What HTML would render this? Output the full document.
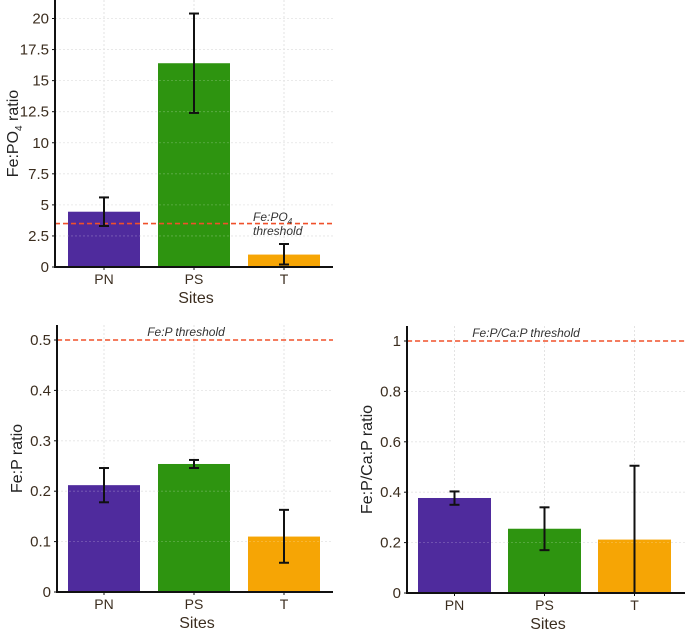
<!DOCTYPE html>
<html><head><meta charset="utf-8"><style>
body{margin:0;background:#fff}
svg{display:block;font-family:"Liberation Sans",sans-serif}
</style></head><body>
<svg id="c" width="685" height="629"></svg>
<script>
const categories=["PN","PS","T"];
const colors=["#4b279b","#2a920b","#f6a300"];
const valsA=[4.45,16.4,1.0];
const loA=[3.3,12.4,0.2];
const hiA=[5.6,20.4,1.85];
const ticksA=[0,2.5,5,7.5,10,12.5,15,17.5,20];
const tickLabA=["0","2.5","5","7.5","10","12.5","15","17.5","20"];
const threshA=3.5;
const valsB=[0.212,0.254,0.11];
const loB=[0.178,0.246,0.058];
const hiB=[0.246,0.262,0.163];
const ticksB=[0,0.1,0.2,0.3,0.4,0.5];
const tickLabB=["0","0.1","0.2","0.3","0.4","0.5"];
const threshB=0.5;
const valsC=[0.377,0.255,0.212];
const loC=[0.35,0.17,0.0];
const hiC=[0.403,0.34,0.505];
const ticksC=[0,0.2,0.4,0.6,0.8,1];
const tickLabC=["0","0.2","0.4","0.6","0.8","1"];
const threshC=1;

const NS="http://www.w3.org/2000/svg";
const svg=document.getElementById('c');
function mk(t,a,parent){const e=document.createElementNS(NS,t);for(const k in a)e.setAttribute(k,a[k]);(parent||svg).appendChild(e);return e;}

function panel(p){
  const g=mk('g',{});
  
  
  const y=v=>p.y0+(v-p.vmin)*(p.y1-p.y0)/(p.vmax-p.vmin);
  const xc=i=>p.bx0+p.bw/2+i*p.step;
  p.ticks.forEach((t,i)=>{
    const l=mk('line',{x1:p.left,x2:p.right,y1:y(t),y2:y(t),stroke:"#ddd","stroke-width":0.8,"stroke-dasharray":"2,2"},g);
    
    const tx=mk('text',{x:p.left-6,y:y(t)+5,"text-anchor":"end","font-size":15,fill:"#3b2d1f"},g);
    tx.textContent=p.tickLab[i];
    
  });
  categories.forEach((c,i)=>{
    const gl=mk('line',{x1:xc(i),x2:xc(i),y1:p.top,y2:p.y0,stroke:"#ddd","stroke-width":0.8,"stroke-dasharray":"2,2"},g);
    
  });
  categories.forEach((c,i)=>{
    const b=mk('rect',{x:xc(i)-p.bw/2,y:y(p.vals[i]),width:p.bw,height:p.y0-y(p.vals[i]),fill:colors[i],"fill-opacity":0.98},g);
    
  });
  p.ticks.forEach(t=>{mk('line',{x1:p.left,x2:p.right,y1:y(t),y2:y(t),stroke:"#fff","stroke-opacity":0.25,"stroke-width":0.8,"stroke-dasharray":"2,2"},g);});
  const th=mk('line',{x1:p.left,x2:p.right,y1:y(p.thresh),y2:y(p.thresh),stroke:"#f0502a","stroke-width":1.6,"stroke-dasharray":"5,3"},g);
  
  categories.forEach((c,i)=>{
    const e=mk('g',{stroke:"#111","stroke-width":2},g);
    
    mk('line',{x1:xc(i),x2:xc(i),y1:y(p.lo[i]),y2:y(p.hi[i])},e);
    mk('line',{x1:xc(i)-5,x2:xc(i)+5,y1:y(p.lo[i]),y2:y(p.lo[i])},e);
    mk('line',{x1:xc(i)-5,x2:xc(i)+5,y1:y(p.hi[i]),y2:y(p.hi[i])},e);
    const tl=mk('text',{x:xc(i),y:p.y0+17,"text-anchor":"middle","font-size":14,fill:"#3b2d1f"},g);
    tl.textContent=c;
    mk('line',{x1:xc(i),x2:xc(i),y1:p.y0,y2:p.y0+3,stroke:"#111"},g);
  });
  p.ticks.forEach(t=>mk('line',{x1:p.left-3,x2:p.left,y1:y(t),y2:y(t),stroke:"#111"},g));
  const ax=mk('path',{d:`M${p.left},${p.top}V${p.y0}H${p.right}`,fill:"none",stroke:"#111","stroke-width":2},g);
  
  const xl=mk('text',{x:(p.left+p.right)/2+2,y:p.y0+36,"text-anchor":"middle","font-size":16,fill:"#3b2d1f"},g);
  xl.textContent="Sites";
  const yl=mk('text',{x:0,y:0,"text-anchor":"middle","font-size":16,fill:"#222",transform:`translate(${p.ylx},${(p.top+p.y0)/2}) rotate(-90)`},g);
  yl.innerHTML=p.ylab;
  return {g,y};
}
const A=panel({name:"panel-fe-po4",left:55,right:333,top:0,y0:267,y1:18.5,vmin:0,vmax:20,bx0:68,bw:72,step:90,
  vals:valsA,lo:loA,hi:hiA,ticks:ticksA,tickLab:tickLabA,thresh:threshA,ylx:18,
  ylab:'Fe:PO<tspan font-size="10" dy="4">4</tspan><tspan dy="-4"> ratio</tspan>'});
let t=mk('text',{x:253,y:221,"font-size":12,"font-style":"italic",fill:"#333"},A.g);
t.innerHTML='Fe:PO<tspan font-size="8" dy="3">4</tspan>';

t=mk('text',{x:253,y:235,"font-size":12,"font-style":"italic",fill:"#333"},A.g);
t.textContent='threshold';

const B=panel({name:"panel-fe-p",left:57,right:333,top:325,y0:592,y1:340,vmin:0,vmax:0.5,bx0:68,bw:72,step:90,
  vals:valsB,lo:loB,hi:hiB,ticks:ticksB,tickLab:tickLabB,thresh:threshB,ylx:22,ylab:'Fe:P ratio'});
t=mk('text',{x:186,y:336,"text-anchor":"middle","font-size":12,"font-style":"italic",fill:"#333"},B.g);
t.textContent='Fe:P threshold';

const C=panel({name:"panel-fe-p-ca-p",left:407,right:685,top:326,y0:593,y1:341,vmin:0,vmax:1,bx0:418,bw:73,step:90,
  vals:valsC,lo:loC,hi:hiC,ticks:ticksC,tickLab:tickLabC,thresh:threshC,ylx:372,ylab:'Fe:P/Ca:P ratio'});
t=mk('text',{x:526,y:337,"text-anchor":"middle","font-size":12,"font-style":"italic",fill:"#333"},C.g);
t.textContent='Fe:P/Ca:P threshold';
</script>
</body></html>
